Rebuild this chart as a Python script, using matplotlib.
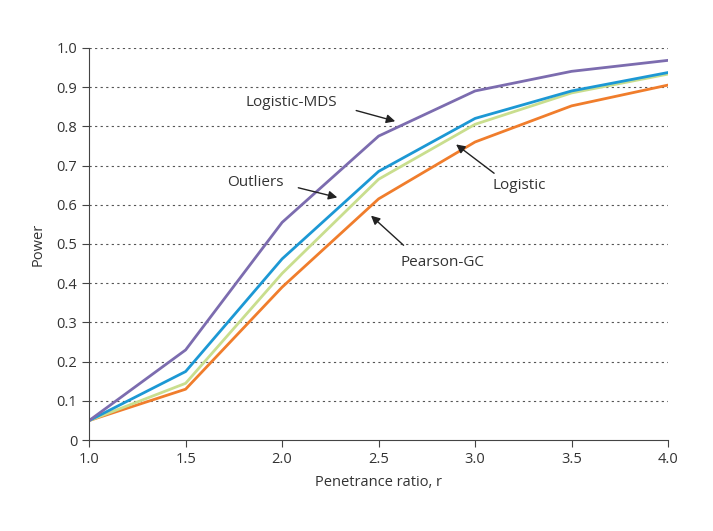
import matplotlib.pyplot as plt

r = [1.0, 1.5, 2.0, 2.5, 3.0, 3.5, 4.0]
logistic_mds = [0.05, 0.23, 0.555, 0.775, 0.89, 0.94, 0.968]
outliers = [0.05, 0.175, 0.462, 0.685, 0.82, 0.89, 0.937]
logistic = [0.05, 0.145, 0.425, 0.665, 0.805, 0.885, 0.933]
pearson_gc = [0.05, 0.13, 0.39, 0.615, 0.76, 0.852, 0.905]

plt.rcParams['font.family'] = ['Open Sans', 'DejaVu Sans']

fig = plt.figure(figsize=(7.13, 5.31), dpi=100)
ax = fig.add_axes([0.125, 0.171, 0.812, 0.739])

ax.plot(r, pearson_gc, color="#F07D2C", lw=2)
ax.plot(r, logistic, color="#C9DE8E", lw=2)
ax.plot(r, outliers, color="#1C98D4", lw=2)
ax.plot(r, logistic_mds, color="#7C6CAF", lw=2)

ax.set_xlim(1.0, 4.0)
ax.set_ylim(0, 1.0)
ax.set_xticks(r)
ax.set_xticklabels(["%.1f" % v for v in r])
yt = [i / 10 for i in range(11)]
ax.set_yticks(yt)
ax.set_yticklabels(["0"] + ["%.1f" % v for v in yt[1:]])
for v in yt[1:]:
    ax.axhline(v, color="#555555", lw=0.8, ls=(0, (2, 3)), zorder=0)

for s in ["top", "right"]:
    ax.spines[s].set_visible(False)
for s in ["left", "bottom"]:
    ax.spines[s].set_color("#444444")
ax.tick_params(direction="out", length=5, color="#444444", labelsize=10.5, labelcolor="#333333")
ax.set_xlabel("Penetrance ratio, r", fontsize=10.5, color="#333333", labelpad=6)
ax.set_ylabel("Power", fontsize=10.5, color="#333333", labelpad=8)

arrow = dict(arrowstyle="-|>", color="#222222", lw=1, mutation_scale=13)
ax.text(2.05, 0.86, "Logistic-MDS", fontsize=11, ha="center", va="center", color="#333333")
ax.annotate("", xy=(2.60, 0.811), xytext=(2.37, 0.842), arrowprops=arrow)
ax.text(1.86, 0.656, "Outliers", fontsize=11, ha="center", va="center", color="#333333")
ax.annotate("", xy=(2.30, 0.617), xytext=(2.07, 0.645), arrowprops=arrow)
ax.text(3.23, 0.648, "Logistic", fontsize=11, ha="center", va="center", color="#333333")
ax.annotate("", xy=(2.89, 0.758), xytext=(3.11, 0.676), arrowprops=arrow)
ax.text(2.83, 0.454, "Pearson-GC", fontsize=11, ha="center", va="center", color="#333333")
ax.annotate("", xy=(2.45, 0.577), xytext=(2.64, 0.492), arrowprops=arrow)

fig.savefig("out.png", dpi=100)
